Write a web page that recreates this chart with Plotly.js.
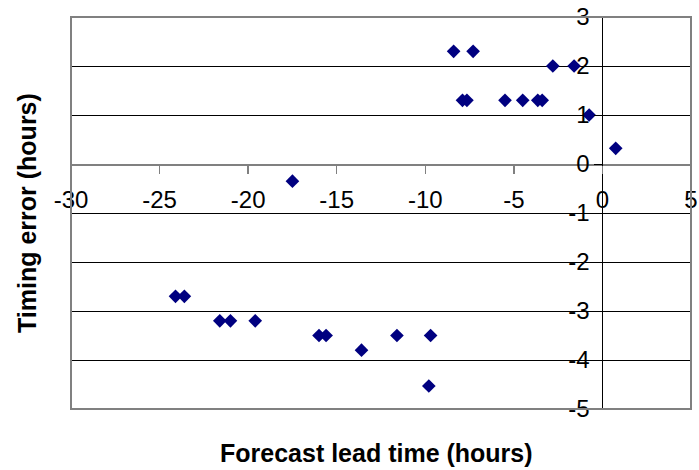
<!DOCTYPE html>
<html>
<head>
<meta charset="utf-8">
<script src="https://cdn.plot.ly/plotly-3.0.1.min.js"></script>
<style>html,body{margin:0;padding:0;background:#fff;}#chart{width:699px;height:470px;}</style>
</head>
<body>
<div id="chart"></div>
<script>
// Forecast lead time (hours)
const leadTime = [-8.4, -7.3, -2.8, -1.6, -7.9, -7.65, -5.5, -4.5, -3.65, -3.4, -0.75, 0.75,
  -17.5,
  -24.1, -23.6, -21.6, -21.0, -19.6, -16.0, -15.6, -13.6, -11.6, -9.7, -9.8];
// Timing error (hours)
const timingError = [2.3, 2.3, 2.0, 2.0, 1.3, 1.3, 1.3, 1.3, 1.3, 1.3, 1.0, 0.32,
  -0.35,
  -2.7, -2.7, -3.2, -3.2, -3.2, -3.5, -3.5, -3.8, -3.5, -3.5, -4.53];
const xTicks = [-30, -25, -20, -15, -10, -5, 0, 5];
const yTicks = [3, 2, 1, 0, -1, -2, -3, -4, -5];
const xTitle = 'Forecast lead time (hours)';
const yTitle = 'Timing error (hours)';

const FONT = 'Arial, "Liberation Sans", sans-serif';
const xRange = [xTicks[0], xTicks[xTicks.length - 1]];
const yRange = [Math.min(...yTicks), Math.max(...yTicks)];

const trace = {
  type: 'scatter', mode: 'markers',
  x: leadTime, y: timingError,
  marker: {symbol: 'diamond', size: 10.5, color: '#000080', line: {width: 0}},
  cliponaxis: false, hoverinfo: 'skip'
};

const layout = {
  width: 699, height: 470,
  margin: {l: 71, r: 8, t: 17, b: 61, pad: 0},
  paper_bgcolor: '#fff', plot_bgcolor: '#fff',
  showlegend: false,
  font: {family: FONT, size: 24, color: '#000'},
  xaxis: {
    range: xRange, tickvals: xTicks, ticktext: xTicks.map(String),
    anchor: 'free', position: (0 - yRange[0]) / (yRange[1] - yRange[0]),
    showgrid: false, zeroline: false,
    showline: true, linecolor: '#808080', linewidth: 1.5,
    ticks: 'outside', ticklen: 8, tickcolor: '#808080', tickwidth: 1.5,
    tickfont: {family: FONT, size: 24, color: '#000'},
    ticklabelstandoff: 6
  },
  yaxis: {
    range: yRange, tickvals: yTicks, ticktext: yTicks.map(String),
    anchor: 'free', position: (0 - xRange[0]) / (xRange[1] - xRange[0]),
    showgrid: true, gridcolor: '#000', gridwidth: 1,
    zeroline: false,
    showline: true, linecolor: '#000', linewidth: 1,
    ticks: 'outside', ticklen: 8, tickcolor: '#000', tickwidth: 1,
    tickfont: {family: FONT, size: 24, color: '#000'}
  },
  shapes: [{
    type: 'rect', xref: 'paper', yref: 'paper', x0: 0, x1: 1, y0: 0, y1: 1,
    line: {color: '#808080', width: 2}, fillcolor: 'rgba(0,0,0,0)', layer: 'above'
  }],
  annotations: [
    {text: '<b>' + xTitle + '</b>', xref: 'paper', yref: 'paper',
     x: 0.492, y: -0.112, xanchor: 'center', yanchor: 'middle', showarrow: false,
     font: {family: FONT, size: 25, color: '#000'}},
    {text: '<b>' + yTitle + '</b>', xref: 'paper', yref: 'paper',
     x: -0.071, y: 0.5, xanchor: 'center', yanchor: 'middle', showarrow: false, textangle: -90,
     font: {family: FONT, size: 25, color: '#000'}}
  ]
};

Plotly.newPlot('chart', [trace], layout, {staticPlot: true, displayModeBar: false});
</script>
</body>
</html>
